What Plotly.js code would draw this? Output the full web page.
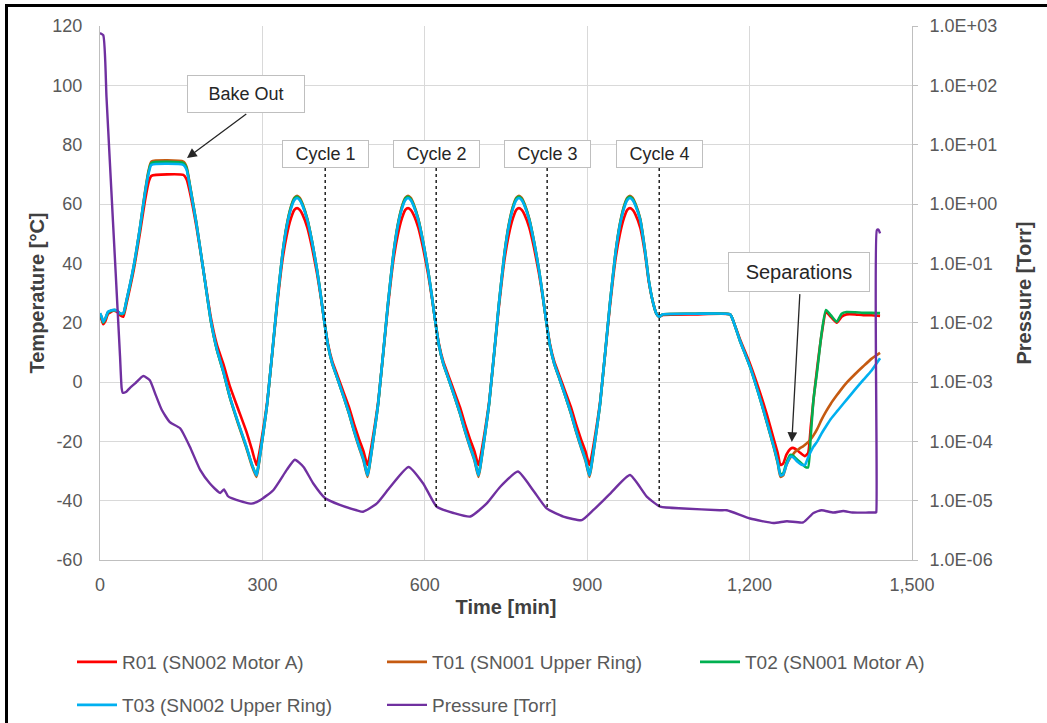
<!DOCTYPE html>
<html>
<head>
<meta charset="utf-8">
<script src="https://cdn.plot.ly/plotly-3.0.1.min.js"></script>
<style>
  html, body { margin: 0; padding: 0; background: #fff; overflow: hidden; }
  #chart { position: absolute; left: 0; top: 0; width: 1047px; height: 723px; }
  #frame { position: absolute; left: 5px; top: 4px; width: 2000px; height: 2000px;
           border-left: 3px solid #000; border-top: 3px solid #000; pointer-events: none; }
</style>
</head>
<body>
<div id="chart"></div>
<div id="frame"></div>
<script>
// ---------------- data ----------------
const seriesNames = ['R01 (SN002 Motor A)', 'T01 (SN001 Upper Ring)', 'T02 (SN001 Motor A)', 'T03 (SN002 Upper Ring)', 'Pressure [Torr]'];

const timeMin = [
  0,3,6,10,15,25,32,37,43,49,62,74,83,90,95,154,160,166,178,192,205,216,228,240,255,270,281,289,
  292,297,309,327,337,345,353,359,364,
  369,374,383,392,401,408,414,421,429,439,450,460,469,478,487,494,
  497,502,514,532,542,550,558,564,569,
  574,579,588,597,606,613,619,626,634,644,655,665,674,683,692,699,
  702,707,719,737,747,755,763,769,774,
  779,784,793,802,811,818,824,831,839,849,860,870,879,888,897,904,
  907,912,924,942,952,960,968,974,979,
  984,989,998,1007,1014,1022,1028,1033,1040,1100,1164,
  1170,1182,1201,1220,1232,1245,1252,1257,
  1262,1268,1275,1280,1284,1288,1293,1298,1302,1308,1313,1318,1325,1333,1341,1350,1361,1370,1379,1395,1410,1425,1441
];

const r01 = [
  22.5,21.0,19.5,20.5,23.0,24.0,23.5,22.5,22.0,26.5,37.5,50.5,61.0,67.5,69.5,69.8,68.3,64,52.5,36.5,21.5,12.5,6,-1.5,-9,-16.5,-23,-28,
  -26,-21,-6.5,25.5,41,49.5,55.3,58,58.6,
  58,56.5,52,45,36.5,28.5,21,13,7,2,-3.5,-8.5,-14,-19,-23.5,-28,
  -26,-21,-6.5,25.5,41,49.5,55.3,58,58.6,
  58,56.5,52,45,36.5,28.5,21,13,7,2,-3.5,-8.5,-14,-19,-23.5,-28,
  -26,-21,-6.5,25.5,41,49.5,55.3,58,58.6,
  58,56.5,52,45,36.5,28.5,21,13,7,2,-3.5,-8.5,-14,-19,-23.5,-28,
  -26,-21,-6.5,25.5,41,49.5,55.3,58,58.6,
  58,56.5,52,43,33.5,26.5,23,22,22.6,22.8,22.8,
  20.5,14.5,6,-4,-11,-19.5,-24,-28,
  -27.5,-24.5,-22.6,-22.2,-22.5,-23,-23.8,-24.5,-25,-24,-15,-6,5,16,23.5,22,20,22,22.8,22.8,22.5,22.5,22.3
];

const t01 = [
  23.0,21.8,20.0,21.3,23.5,24.2,24.0,23.0,23.0,27.5,38.7,52.3,64.0,71.5,74.3,74.3,72.5,66.5,53.8,36.5,20.3,10.8,3.3,-5.3,-14,-22,-28.5,-32,
  -29.5,-23.3,-7.2,26.5,43.2,53,59.3,62.1,62.8,
  62.1,60.2,55,47.2,37.8,29,20.9,12.4,6.2,0.9,-5,-10.7,-16.5,-21.8,-26.7,-32,
  -29.5,-23.3,-7.2,26.5,43.2,53,59.3,62.1,62.8,
  62.1,60.2,55,47.2,37.8,29,20.9,12.4,6.2,0.9,-5,-10.7,-16.5,-21.8,-26.7,-32,
  -29.5,-23.3,-7.2,26.5,43.2,53,59.3,62.1,62.8,
  62.1,60.2,55,47.2,37.8,29,20.9,12.4,6.2,0.9,-5,-10.7,-16.5,-21.8,-26.7,-32,
  -29.5,-23.3,-7.2,26.5,43.2,53,59.3,62.1,62.8,
  62.1,60.2,55,44.2,34,26.5,23,22,22.8,23,22.8,
  20.5,14,5,-6,-13.8,-22.3,-27.5,-32,
  -31.5,-28,-25.5,-24.5,-23.5,-23,-22.3,-21.8,-21.2,-20.3,-19.3,-18,-15.8,-12.7,-10,-7.3,-4.5,-2.3,-0.3,2.7,5.3,7.8,9.8
];

const t02 = [
  23.0,21.8,20.0,21.3,23.5,24.2,24.0,23.0,23.0,27.4,38.5,52.0,63.5,71.0,73.8,73.8,72.0,66.3,53.5,36.3,20.3,10.8,3.3,-5.2,-13.7,-21.7,-28,-31.3,
  -28.8,-22.8,-7,26.5,43,52.7,59,61.8,62.4,
  61.7,59.8,54.8,47,37.7,29,20.9,12.5,6.3,1,-4.9,-10.5,-16.2,-21.3,-26,-31.3,
  -28.8,-22.8,-7,26.5,43,52.7,59,61.8,62.4,
  61.7,59.8,54.8,47,37.7,29,20.9,12.5,6.3,1,-4.9,-10.5,-16.2,-21.3,-26,-31.3,
  -28.8,-22.8,-7,26.5,43,52.7,59,61.8,62.4,
  61.7,59.8,54.8,47,37.7,29,20.9,12.5,6.3,1,-4.9,-10.5,-16.2,-21.3,-26,-31.3,
  -28.8,-22.8,-7,26.5,43,52.7,59,61.8,62.4,
  61.7,59.8,54.8,44,34,26.5,23,22,22.8,23,22.8,
  20.5,14,5,-6,-13.5,-22,-27,-31,
  -30.8,-27.2,-24.6,-24.8,-25.5,-26.2,-27,-27.8,-28.5,-28.8,-18,-6,4,16.4,24.3,22.5,20.3,23,23.6,23.5,23.3,23.3,23.2
];

const t03 = [
  23.2,22.0,20.3,21.5,23.7,24.3,24.0,23.2,23.2,27.6,38.9,52.3,63.6,70.5,73.2,73.2,71.5,66,53.5,36.5,20.5,11,3.5,-5,-13.5,-21.5,-28,-31.5,
  -29,-23,-7,26.5,43,52.5,58.5,61.3,62,
  61.3,59.5,54.6,47,37.7,29,20.9,12.5,6.3,1,-4.9,-10.5,-16.2,-21.5,-26.3,-31.5,
  -29,-23,-7,26.5,43,52.5,58.5,61.3,62,
  61.3,59.5,54.6,47,37.7,29,20.9,12.5,6.3,1,-4.9,-10.5,-16.2,-21.5,-26.3,-31.5,
  -29,-23,-7,26.5,43,52.5,58.5,61.3,62,
  61.3,59.5,54.6,47,37.7,29,20.9,12.5,6.3,1,-4.9,-10.5,-16.2,-21.5,-26.3,-31.5,
  -29,-23,-7,26.5,43,52.5,58.5,61.3,62,
  61.3,59.5,54.6,44,34,26.5,23,22,22.8,23,22.8,
  20.5,14,5,-6,-13.5,-22,-27,-31.5,
  -31.2,-28,-25.2,-25.3,-26,-26.8,-27.5,-28,-28,-25.5,-23.5,-21.8,-20,-17.3,-15,-12.5,-10,-8,-6,-2.5,0.7,3.8,8
];

const pressTime = [
  0,6,12,18,24,29,33,37,40,42,48,55,65,80,92,103,114,129,148,166,185,203,222,229,236,243,265,280,296,320,345,360,376,394,416,443,474,486,
  511,536,570,597,622,653,684,714,739,772,800,825,856,890,911,942,979,1010,1035,1078,1145,1158,1201,1244,1269,1299,1318,1333,1355,1373,1390,1420,1432,1433,1434,1435,1438,1441
];
const pressTorr = [
  760,700,63,5.6,0.5,0.068,0.0135,2.7e-3,7.9e-4,6.6e-4,6.8e-4,7.9e-4,9.5e-4,1.26e-3,1.07e-3,6.0e-4,3.4e-4,2.1e-4,1.66e-4,8.1e-5,3.3e-5,1.95e-5,1.35e-5,1.55e-5,1.2e-5,1.1e-5,9.5e-6,8.9e-6,1.02e-5,1.5e-5,3.3e-5,4.9e-5,3.7e-5,1.95e-5,1.1e-5,8.5e-6,6.9e-6,6.5e-6,
  8.9e-6,1.7e-5,3.7e-5,1.95e-5,7.9e-6,6.2e-6,5.4e-6,8.9e-6,1.7e-5,3.1e-5,1.5e-5,7.4e-6,5.4e-6,4.7e-6,6.9e-6,1.3e-5,2.7e-5,1.17e-5,7.9e-6,7.4e-6,6.9e-6,6.9e-6,5.0e-6,4.2e-6,4.5e-6,4.3e-6,6.2e-6,6.9e-6,6.3e-6,6.7e-6,6.3e-6,6.3e-6,6.3e-6,6.3e-6,6.4e-6,0.36,0.37,0.32
];

const xTickVals = [0, 300, 600, 900, 1200, 1500];
const xTickText = ['0', '300', '600', '900', '1,200', '1,500'];
const tempTickVals = [-60, -40, -20, 0, 20, 40, 60, 80, 100, 120];
const tempTickText = ['-60', '-40', '-20', '0', '20', '40', '60', '80', '100', '120'];
const pressTickVals = [1e-6, 1e-5, 1e-4, 1e-3, 1e-2, 1e-1, 1, 10, 100, 1000];
const pressTickText = ['1.0E-06', '1.0E-05', '1.0E-04', '1.0E-03', '1.0E-02', '1.0E-01', '1.0E+00', '1.0E+01', '1.0E+02', '1.0E+03'];

const cycleLabels = ['Cycle 1', 'Cycle 2', 'Cycle 3', 'Cycle 4'];
const cycleTimes = [416, 621, 826, 1033];

// ---------------- chart ----------------
const colors = ['#ff0000', '#c55a11', '#00b050', '#00b0f0', '#7030a0'];
const tempSeries = [r01, t01, t02, t03];
const legendIds = ['legend', 'legend2', 'legend3', 'legend4', 'legend5'];

const traces = tempSeries.map((vals, i) => ({
  type: 'scatter', mode: 'lines', x: timeMin, y: vals, name: seriesNames[i],
  line: { color: colors[i], width: 2.6, shape: 'spline', smoothing: 0.5 },
  legend: legendIds[i], hoverinfo: 'skip'
}));
traces.push({
  type: 'scatter', mode: 'lines', x: pressTime, y: pressTorr, name: seriesNames[4], yaxis: 'y2',
  line: { color: colors[4], width: 2.4, shape: 'spline', smoothing: 0.5 }, legend: legendIds[4], hoverinfo: 'skip'
});

const FONT = 'Liberation Sans, Arial, sans-serif';
const tickFont = { family: FONT, size: 18, color: '#595959' };
const titleFont = { family: FONT, size: 20, color: '#404040', weight: 700 };
const legFont = { family: FONT, size: 19, color: '#595959' };

function leg(xPx, yPx) {
  return {
    x: (xPx - 100) / 812, xanchor: 'left', y: (560 - yPx) / 534, yanchor: 'middle',
    orientation: 'h', font: legFont, bgcolor: 'rgba(0,0,0,0)', borderwidth: 0, itemwidth: 40
  };
}

const annotations = [];
const shapes = [];
annotations.push({ x: 270, y: 97.1, xref: 'x', yref: 'y', text: 'Bake Out', showarrow: false,
  bordercolor: '#bfbfbf', borderwidth: 1, borderpad: 0, bgcolor: '#ffffff', width: 116, height: 36,
  font: { family: FONT, size: 18, color: '#262626' } });
annotations.push({ x: 160.7, y: 75.5, ax: 273, ay: 90.7, xref: 'x', yref: 'y', axref: 'x', ayref: 'y',
  text: ' ', font: { size: 1 }, showarrow: true, arrowhead: 2, arrowsize: 1.5, arrowwidth: 1.3, arrowcolor: '#262626', standoff: 0 });
cycleLabels.forEach((lab, i) => {
  annotations.push({ x: cycleTimes[i], y: 76.8, xref: 'x', yref: 'y', text: lab, showarrow: false,
    bordercolor: '#bfbfbf', borderwidth: 1, borderpad: 0, bgcolor: '#ffffff', width: 85, height: 26,
    font: { family: FONT, size: 18, color: '#262626' } });
  shapes.push({ type: 'line', xref: 'x', yref: 'y', x0: cycleTimes[i], x1: cycleTimes[i], y0: 72.1, y1: -43,
    line: { color: '#000000', width: 1.3, dash: '3px,3px' } });
});
annotations.push({ x: 1291, y: 37.1, xref: 'x', yref: 'y', text: 'Separations', showarrow: false,
  bordercolor: '#bfbfbf', borderwidth: 1, borderpad: 0, bgcolor: '#ffffff', width: 140, height: 38,
  font: { family: FONT, size: 20, color: '#262626' } });
annotations.push({ x: 1278, y: -20.2, ax: 1293, ay: 30.3, xref: 'x', yref: 'y', axref: 'x', ayref: 'y',
  text: ' ', font: { size: 1 }, showarrow: true, arrowhead: 2, arrowsize: 1.5, arrowwidth: 1.3, arrowcolor: '#262626', standoff: 0 });

const layout = {
  width: 1047, height: 723,
  margin: { l: 100, r: 135, t: 26, b: 163, autoexpand: false },
  paper_bgcolor: '#ffffff', plot_bgcolor: '#ffffff',
  font: { family: FONT },
  showlegend: true,
  xaxis: {
    range: [0, 1500], tickvals: xTickVals, ticktext: xTickText, tickfont: tickFont,
    showgrid: true, gridcolor: '#d9d9d9', gridwidth: 1, zeroline: false,
    showline: true, linecolor: '#bfbfbf', linewidth: 1, ticks: '', ticklabelstandoff: 8,
    title: { text: 'Time [min]', font: titleFont, standoff: 6 }
  },
  yaxis: {
    range: [-60, 120], tickvals: tempTickVals, ticktext: tempTickText, tickfont: tickFont,
    showgrid: true, gridcolor: '#d9d9d9', gridwidth: 1, zeroline: false,
    showline: true, linecolor: '#bfbfbf', linewidth: 1, ticks: '', ticklabelstandoff: 13,
    title: { text: 'Temperature [°C]', font: titleFont, standoff: 2 }
  },
  yaxis2: {
    overlaying: 'y', side: 'right', type: 'log', range: [-6, 3],
    tickvals: pressTickVals, ticktext: pressTickText, tickfont: tickFont,
    showgrid: false, zeroline: false, showline: true, linecolor: '#bfbfbf', linewidth: 1,
    ticks: 'outside', ticklen: 5, tickcolor: '#bfbfbf', ticklabelstandoff: 8,
    title: { text: 'Pressure [Torr]', font: titleFont, standoff: 20 }
  },
  legend: leg(72, 662), legend2: leg(382, 662), legend3: leg(695, 662),
  legend4: leg(72, 705), legend5: leg(382, 705),
  annotations: annotations,
  shapes: shapes
};

Plotly.newPlot('chart', traces, layout, { displayModeBar: false, staticPlot: true });
</script>
</body>
</html>
